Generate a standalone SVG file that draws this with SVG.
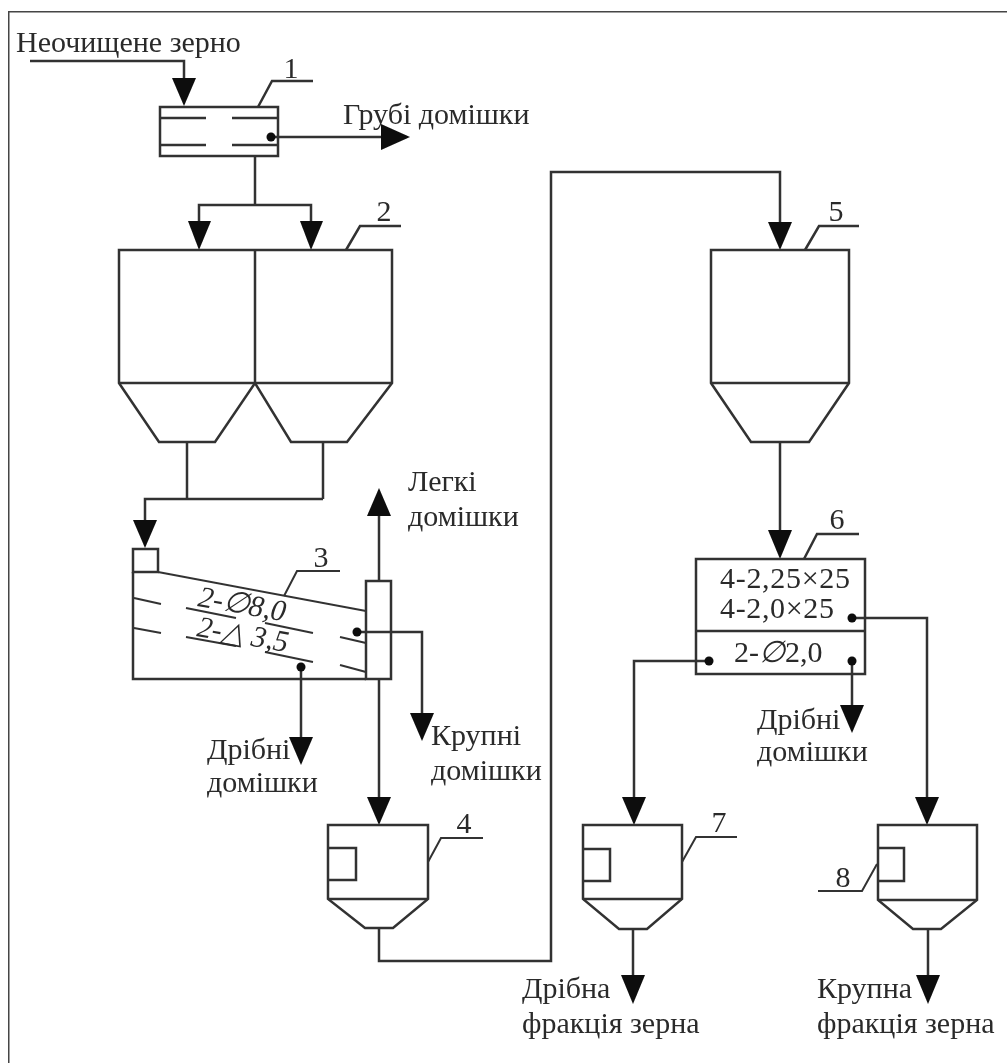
<svg xmlns="http://www.w3.org/2000/svg" width="1007" height="1063" viewBox="0 0 1007 1063">
<style>
.l{fill:none;stroke:#333;stroke-width:2.500}
.t{font-family:"Liberation Serif",serif;font-size:30px;fill:#2a2a2a;stroke:none}
.i{font-style:italic}
.d{fill:#0c0c0c;stroke:none}
.s{stroke-width:2}
</style>
<defs>
<filter id="soft" x="0" y="0" width="100%" height="100%"><feGaussianBlur stdDeviation="0.700"/></filter>
</defs>
<rect width="1007" height="1063" fill="#fff"/>
<g filter="url(#soft)">
<path id="frame" d="M8 1063V11H1007" fill="none" stroke="#444" stroke-width="3"/>
<g id="connectors" class="l">
<path d="M30 61H184V80"/>
<path d="M255 157V205"/>
<path d="M199 225V205H311V225"/>
<path d="M272 137H385"/>
<path d="M187 442V499"/><path d="M323 442V499"/>
<path d="M145 522V499H323"/>
<path d="M379 581V512"/>
<path d="M301 667V740"/>
<path d="M358 632H422V716"/>
<path d="M379 679V800"/>
<path d="M379 929V961H551V172H780V225"/>
<path d="M780 442V534"/>
<path d="M852 618H927V800"/>
<path d="M709 661H634V800"/>
<path d="M852 661V708"/>
<path d="M633 930V978"/>
<path d="M928 930V978"/>
</g>
<g id="arrowheads">
<path class="d" d="M172 78H196L184 106Z"/>
<path class="d" d="M188 221H211L199 250Z"/>
<path class="d" d="M300 221H323L311 250Z"/>
<path class="d" d="M381 124V150L410 137Z"/>
<path class="d" d="M133 520H157L145 548Z"/>
<path class="d" d="M367 516H391L379 488Z"/>
<path class="d" d="M289 737H313L301 765Z"/>
<path class="d" d="M410 713H434L422 741Z"/>
<path class="d" d="M367 797H391L379 825Z"/>
<path class="d" d="M768 222H792L780 250Z"/>
<path class="d" d="M768 530H792L780 559Z"/>
<path class="d" d="M840 705H864L852 733Z"/>
<path class="d" d="M622 797H646L634 825Z"/>
<path class="d" d="M915 797H939L927 825Z"/>
<path class="d" d="M621 975H645L633 1004Z"/>
<path class="d" d="M916 975H940L928 1004Z"/>
</g>
<g id="node1" class="l">
<rect x="160" y="107" width="118" height="49"/>
<path d="M160 118H206M232 118H278M160 145H206M232 145H278"/>
<path d="M258 107L272 81H313"/>
<circle cx="271" cy="137" r="4.500" class="d"/>
<text x="291" y="78" text-anchor="middle" class="t">1</text>
</g>
<g id="node2" class="l">
<path d="M119 250H392V383L347 442H291L255 383L215 442H159L119 383Z"/>
<path d="M255 250V383M119 383H392"/>
<path d="M346 250L360 226H401"/>
<text x="384" y="221" text-anchor="middle" class="t">2</text>
</g>
<g id="node3" class="l">
<path d="M133 572V679H366"/>
<rect x="133" y="549" width="25" height="23"/>
<path class="s" d="M158 572L366 611"/>
<rect x="366" y="581" width="25" height="98"/>
<path class="s" d="M134 598L161 604M134 628L161 633M186 608L236 618M186 637L236 646M265 623L313 633M265 652L313 662M340 637L366 643M340 665L366 672"/>
<path class="s" d="M284 596L297 571H340"/>
<circle cx="357" cy="632" r="4.500" class="d"/>
<circle cx="301" cy="667" r="4.500" class="d"/>
<text x="321" y="567" text-anchor="middle" class="t">3</text>
<text x="197" y="606" class="t i" transform="rotate(10 197 606)">2-∅8,0</text>
<text x="196" y="636" class="t i" transform="rotate(10 196 636)" textLength="92" lengthAdjust="spacingAndGlyphs">2-△ 3,5</text>
</g>
<g id="node4" class="l">
<path d="M328 825H428V899L393 928H365L328 899Z"/>
<path d="M328 899H428"/>
<path d="M328 848H356V880H328"/>
<path class="s" d="M428 862L441 838H483"/>
<text x="464" y="833" text-anchor="middle" class="t">4</text>
</g>
<g id="node5" class="l">
<path d="M711 250H849V383L809 442H751L711 383Z"/>
<path d="M711 383H849"/>
<path d="M805 250L819 226H859"/>
<text x="836" y="221" text-anchor="middle" class="t">5</text>
</g>
<g id="node6" class="l">
<rect x="696" y="559" width="169" height="115"/>
<path d="M696 631H865"/>
<path d="M804 559L817 534H859"/>
<text x="837" y="529" text-anchor="middle" class="t">6</text>
<text x="720" y="588" class="t" textLength="130">4-2,25×25</text>
<text x="720" y="618" class="t" textLength="114">4-2,0×25</text>
<text x="734" y="662" class="t">2-<tspan class="i">∅</tspan>2,0</text>
<circle cx="852" cy="618" r="4.500" class="d"/>
<circle cx="709" cy="661" r="4.500" class="d"/>
<circle cx="852" cy="661" r="4.500" class="d"/>
</g>
<g id="node7" class="l">
<path d="M583 825H682V899L647 929H619L583 899Z"/>
<path d="M583 899H682"/>
<path d="M583 849H610V881H583"/>
<path class="s" d="M682 862L696 837H737"/>
<text x="719" y="832" text-anchor="middle" class="t">7</text>
</g>
<g id="node8" class="l">
<path d="M878 825H977V900L941 929H913L878 900Z"/>
<path d="M878 900H977"/>
<path d="M878 848H904V881H878"/>
<path class="s" d="M818 891H862L877 864"/>
<text x="843" y="887" text-anchor="middle" class="t">8</text>
</g>
<g id="labels">
<text x="16" y="52" class="t">Неочищене зерно</text>
<text x="343" y="124" class="t">Грубі домішки</text>
<text x="408" y="491" class="t">Легкі</text>
<text x="408" y="526" class="t">домішки</text>
<text x="207" y="759" class="t">Дрібні</text>
<text x="207" y="792" class="t">домішки</text>
<text x="431" y="745" class="t">Крупні</text>
<text x="431" y="780" class="t">домішки</text>
<text x="757" y="729" class="t">Дрібні</text>
<text x="757" y="761" class="t">домішки</text>
<text x="522" y="998" class="t">Дрібна</text>
<text x="522" y="1033" class="t">фракція зерна</text>
<text x="817" y="998" class="t">Крупна</text>
<text x="817" y="1033" class="t">фракція зерна</text>
</g>
</g>
</svg>
